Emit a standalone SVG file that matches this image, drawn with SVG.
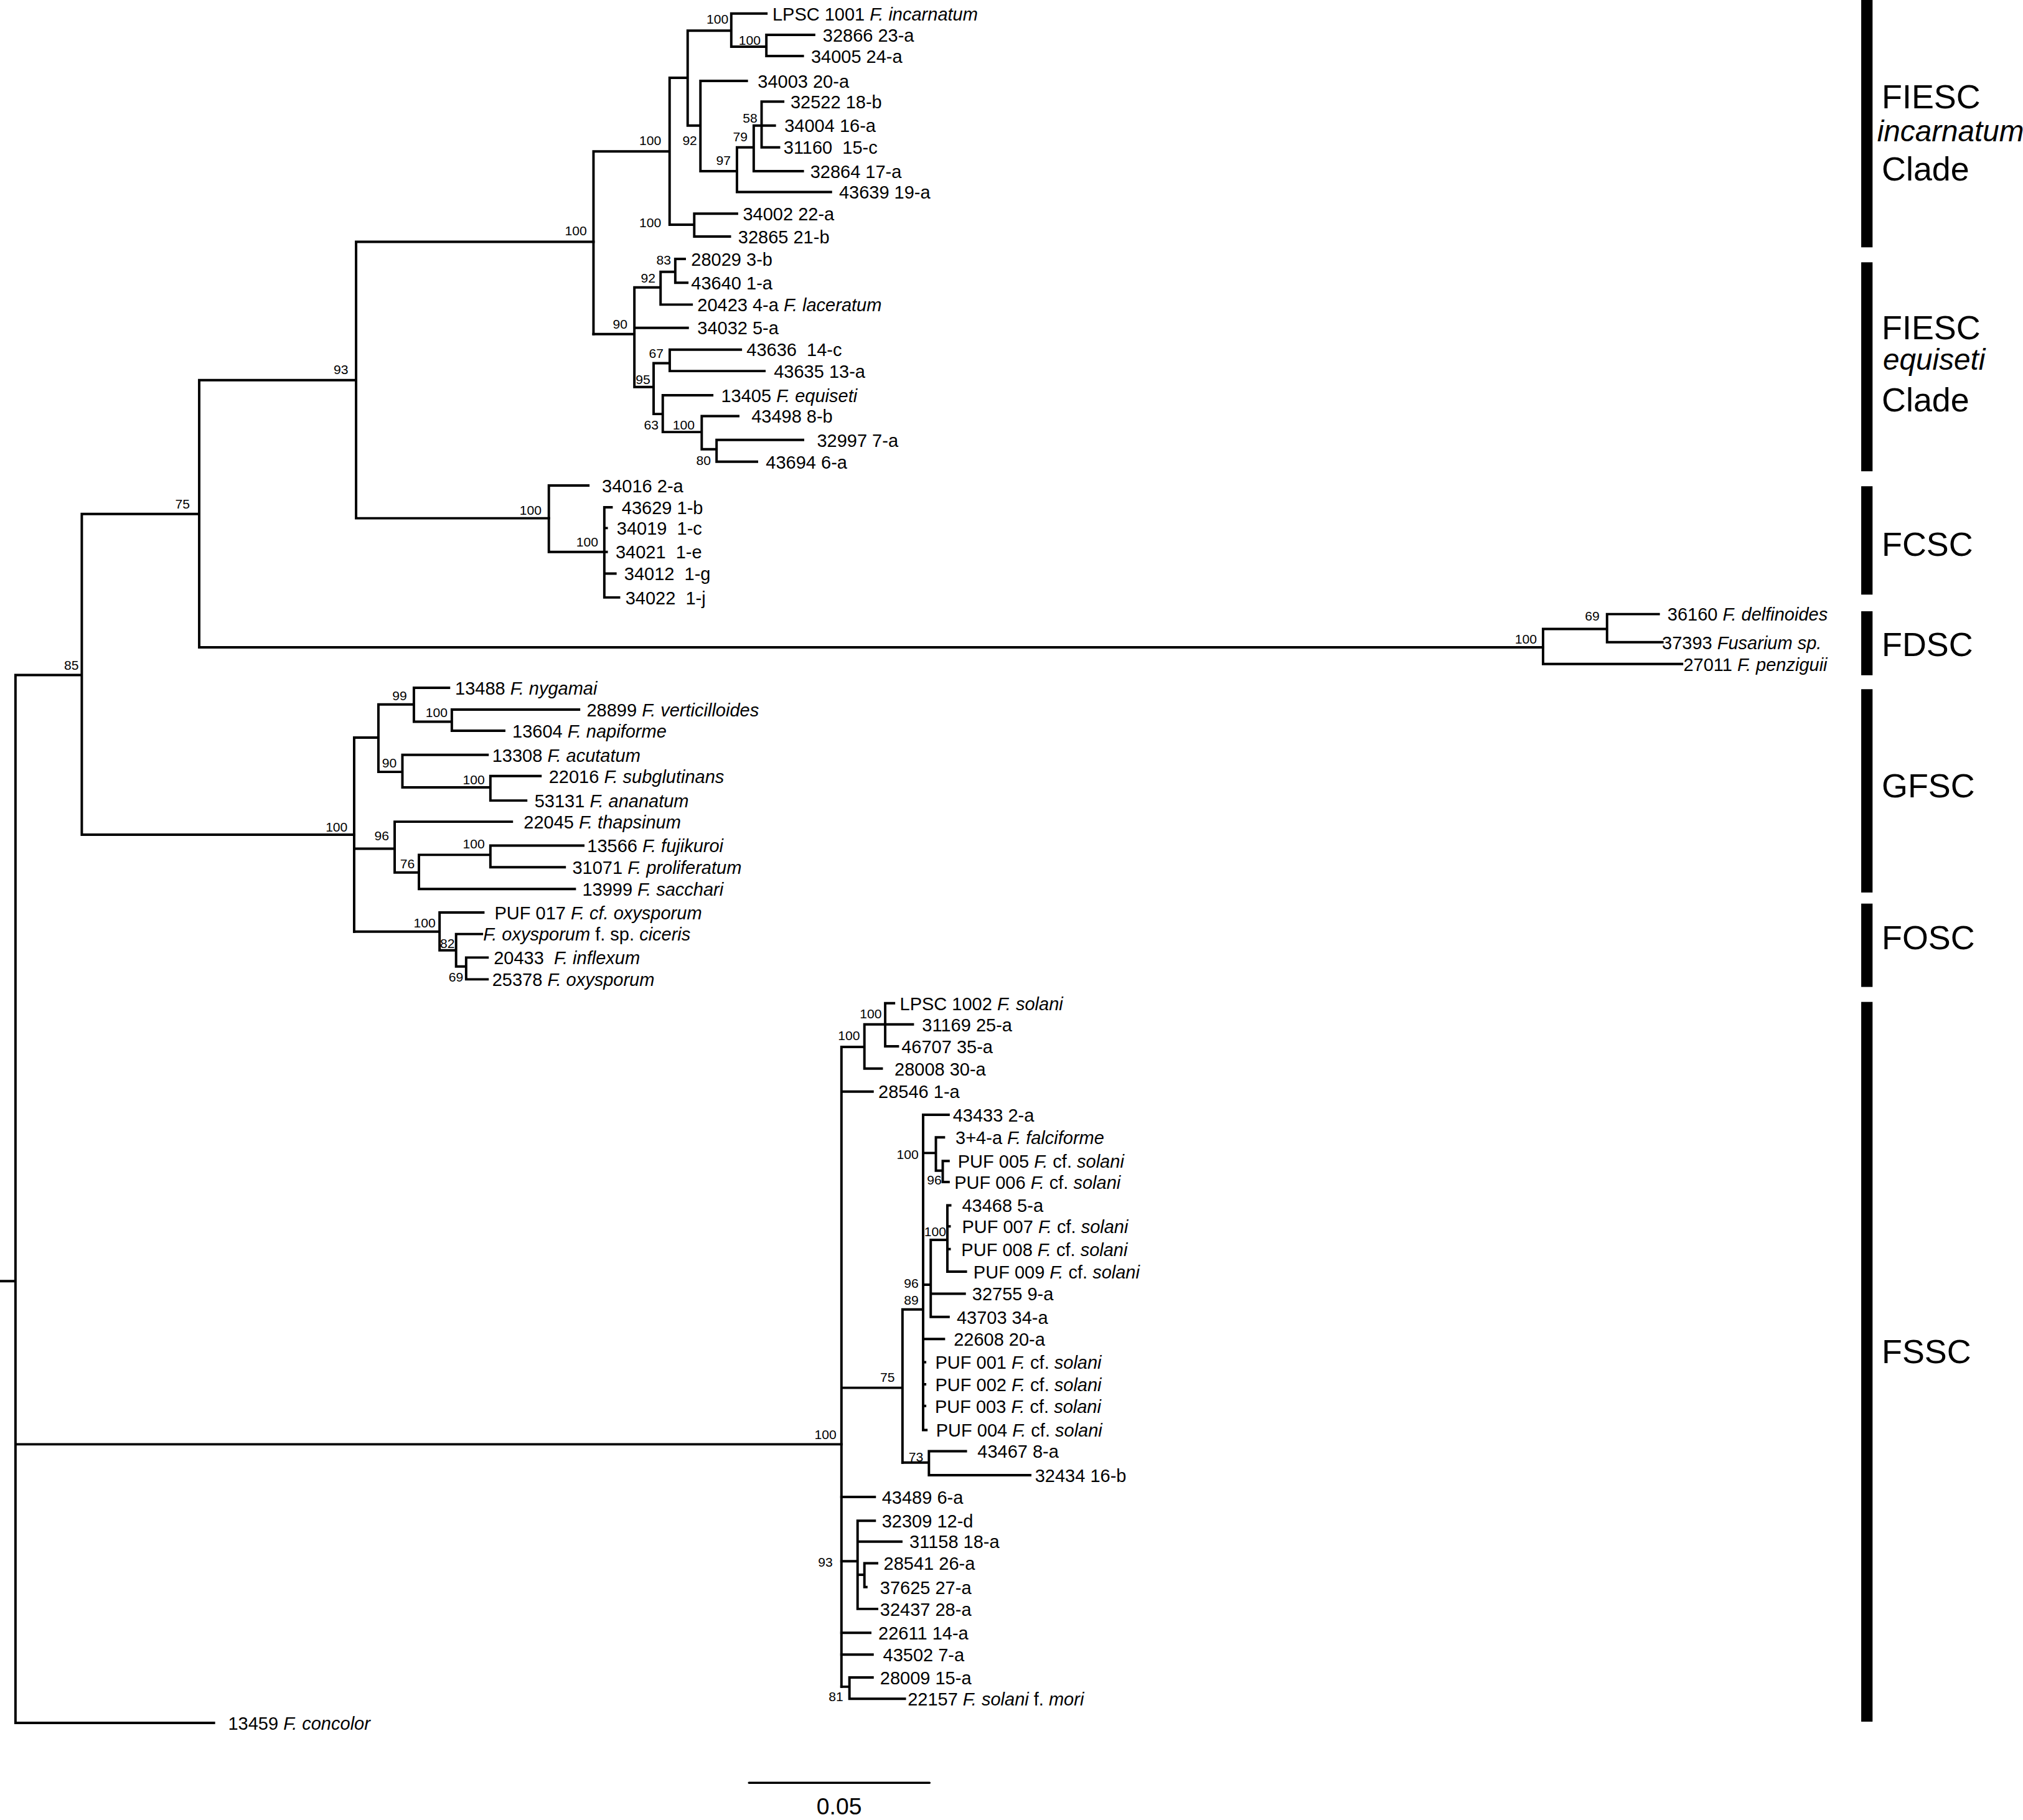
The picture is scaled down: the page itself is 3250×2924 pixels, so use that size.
<svg xmlns="http://www.w3.org/2000/svg" width="3250" height="2924" viewBox="0 0 3250 2924">
<style>
.br{fill:none;stroke:#000;stroke-width:1.9;stroke-linecap:square}
.sb{fill:none;stroke:#000;stroke-width:1.6;stroke-linecap:round}
text{font-family:"Liberation Sans",Arial,sans-serif;fill:#000}
.tip{font-size:14px}
.bs{font-size:10.2px;text-anchor:end}
.cl{font-size:26px}
.ci{font-size:23px;font-style:italic}
.it{font-style:italic}
.bar{fill:#000}
</style>
<rect x="0" y="0" width="3250" height="2924" fill="#fff"/>
<g transform="scale(2.0727)">
<g id="connectors">
<path class="br" d="M0,993H12 M12,523.2V1335.5 M12,1335.5H165.8 M12,1119.5H652.2 M12,523.2H63.4 M63.4,398.4V647 M63.4,398.4H154.4 M154.4,294.7V501.8 M154.4,501.8H1196 M154.4,294.7H276 M276,187.4V401.7 M276,187.4H460 M276,401.7H425.4 M63.4,647H274.5"/>
<path class="br" d="M460,117.4V259 M460,117.4H519 M519,60.3V174.2 M519,60.3H533 M533,23.8V97.3 M533,23.8H566.8 M566.8,10.5V36.2 M566.8,10.5H594 M566.8,36.2H594 M594,27V43.4 M594,27H631 M594,43.4H622.2 M533,97.3H542.9 M542.9,62.7V132.7 M542.9,62.7H578.8 M542.9,132.7H571.2 M571.2,114.2V148.8 M571.2,148.8H644 M571.2,114.2H584.2 M584.2,97.3V132.7 M584.2,132.7H622.2 M584.2,97.3H590.3 M590.3,78.8V114.2 M590.3,78.8H607 M590.3,97.3H600.5 M590.3,114.2H603.8 M519,174.2H538.1 M538.1,165.6V183.3 M538.1,165.6H571.2 M538.1,183.3H565.7"/>
<path class="br" d="M460,259H491.7 M491.7,222.8V300 M491.7,222.8H512 M512,210.7V236.1 M512,210.7H523.4 M523.4,200.7V219.2 M523.4,200.7H530.7 M523.4,219.2H532.7 M512,236.1H536.1 M491.7,254.1H533 M491.7,300H506.6 M506.6,281.5V320.9 M506.6,281.5H519.1 M519.1,271V287.6 M519.1,271H574.2 M519.1,287.6H592.5 M506.6,320.9H513.7 M513.7,306.4V334.9 M513.7,306.4H552 M513.7,334.9H543.9 M543.9,322.5V348.2 M543.9,322.5H572.2 M543.9,348.2H555.4 M555.4,341V357.9 M555.4,341H622.4 M555.4,357.9H586.7"/>
<path class="br" d="M425.4,376.3V427.8 M425.4,376.3H456 M425.4,427.8H468.4 M468.4,393.2V463.1 M468.4,393.2H474 M468.4,409.3H470.2 M468.4,427.8H470.2 M468.4,444.6H477 M468.4,463.1H479.8"/>
<path class="br" d="M1196,487.5V514.7 M1196,487.5H1245.6 M1245.6,476V497.8 M1245.6,476H1285.6 M1245.6,497.8H1288.5 M1196,514.7H1303.7"/>
<path class="br" d="M274.5,571.7V722.1 M274.5,571.7H293.3 M293.3,546V598.3 M293.3,546H320.8 M320.8,533.1V559.4 M320.8,533.1H348 M320.8,559.4H350.2 M350.2,550V566.4 M350.2,550H448.8 M350.2,566.4H390.8 M293.3,598.3H311.9 M311.9,585.1V610.3 M311.9,585.1H377.9 M311.9,610.3H380.1 M380.1,601.5V620.5 M380.1,601.5H418.9 M380.1,620.5H407.8 M274.5,657.8H305.9 M305.9,636.9V676.3 M305.9,636.9H396.7 M305.9,676.3H324.7 M324.7,662.6V689.1 M324.7,662.6H380.1 M380.1,655.4V672.2 M380.1,655.4H452.1 M380.1,672.2H437.7 M324.7,689.1H445.5"/>
<path class="br" d="M274.5,722.1H340.7 M340.7,707.3V736.6 M340.7,707.3H374.6 M340.7,736.6H353.5 M353.5,724V749.1 M353.5,724H373.5 M353.5,749.1H361.3 M361.3,742.2V759.1 M361.3,742.2H377.9 M361.3,759.1H377.9"/>
<path class="br" d="M652.2,811.5V1307.4 M652.2,811.5H670 M670,794V828.3 M670,794H686.1 M686.1,777.6V811 M686.1,777.6H692.9 M686.1,794H707.5 M686.1,811H695.9 M670,828.3H683.4 M652.2,846.1H676.3 M652.2,1075.7H699.5 M699.5,1015V1133.7 M699.5,1015H715.5 M715.5,864.1V1108.5 M715.5,864.1H735.2 M715.5,893.7H725.4 M725.4,881.6V907.4 M725.4,881.6H731.6 M725.4,907.4H730.7 M730.7,899.9V916.2 M730.7,899.9H735.2 M730.7,916.2H735.2 M715.5,995.8H721.4 M721.4,961.1V1020.8 M721.4,961.1H734.3 M734.3,934.3V985.7 M734.3,934.3H736.5 M734.3,950.6H736 M734.3,968.2H736 M734.3,985.7H748.6 M721.4,1002.8H747.7 M721.4,1020.8H735.2 M715.5,1037.9H731.6 M715.5,1055.9H717 M715.5,1073H717 M715.5,1089.8H717 M715.5,1108.5H718"/>
<path class="br" d="M699.5,1133.7H720 M720,1124.9V1143.4 M720,1124.9H748.6 M720,1143.4H798.5 M652.2,1160.3H678 M652.2,1210.1H664.7 M664.7,1178.8V1247.1 M664.7,1178.8H678 M664.7,1194.9H698.6 M664.7,1220.6H670 M670,1211.7V1230.2 M670,1211.7H679.8 M670,1230.2H671.5 M664.7,1247.1H679.8 M652.2,1265.6H674.5 M652.2,1282.5H676.3 M652.2,1307.4H658.4 M658.4,1300.2V1316.8 M658.4,1300.2H676.3 M658.4,1316.8H701.3"/>
</g>
<g id="support-values">
<text class="bs" x="564.6" y="18.5">100</text>
<text class="bs" x="589.6" y="34.6">100</text>
<text class="bs" x="512.5" y="112.6">100</text>
<text class="bs" x="540.3" y="112.6">92</text>
<text class="bs" x="566.4" y="127.9">97</text>
<text class="bs" x="579.4" y="109.4">79</text>
<text class="bs" x="587" y="94.9">58</text>
<text class="bs" x="512.5" y="176.1">100</text>
<text class="bs" x="454.9" y="182.5">100</text>
<text class="bs" x="520.1" y="205.1">83</text>
<text class="bs" x="508" y="218.8">92</text>
<text class="bs" x="486.3" y="254.9">90</text>
<text class="bs" x="514.3" y="277.5">67</text>
<text class="bs" x="504.1" y="297.6">95</text>
<text class="bs" x="510.5" y="332.9">63</text>
<text class="bs" x="538.4" y="332.9">100</text>
<text class="bs" x="551" y="360.3">80</text>
<text class="bs" x="419.7" y="398.8">100</text>
<text class="bs" x="463.6" y="423.7">100</text>
<text class="bs" x="1191.2" y="499">100</text>
<text class="bs" x="1239.8" y="481">69</text>
<text class="bs" x="315.4" y="542.8">99</text>
<text class="bs" x="346.9" y="555.6">100</text>
<text class="bs" x="307.5" y="595">90</text>
<text class="bs" x="375.7" y="607.9">100</text>
<text class="bs" x="269.4" y="644.5">100</text>
<text class="bs" x="301.5" y="651.3">96</text>
<text class="bs" x="321.4" y="673">76</text>
<text class="bs" x="375.7" y="657.8">100</text>
<text class="bs" x="337.6" y="718.9">100</text>
<text class="bs" x="352.4" y="735">82</text>
<text class="bs" x="359.1" y="760.7">69</text>
<text class="bs" x="683.4" y="789.3">100</text>
<text class="bs" x="666.5" y="806.3">100</text>
<text class="bs" x="712" y="898.5">100</text>
<text class="bs" x="729.8" y="918">96</text>
<text class="bs" x="733.4" y="958.3">100</text>
<text class="bs" x="712" y="998.1">96</text>
<text class="bs" x="712" y="1011.4">89</text>
<text class="bs" x="693.6" y="1071">75</text>
<text class="bs" x="648.3" y="1115.5">100</text>
<text class="bs" x="715.6" y="1132.9">73</text>
<text class="bs" x="645.4" y="1214.2">93</text>
<text class="bs" x="653.6" y="1318.7">81</text>
<text class="bs" x="61" y="519">85</text>
<text class="bs" x="147.1" y="394.3">75</text>
<text class="bs" x="269.9" y="289.9">93</text>
</g>
<g id="tips" class="tip">
<g id="t1"><text x="598.7" y="15.7">LPSC 1001 <tspan class="it">F. incarnatum</tspan></text></g>
<g id="t2"><text x="637.7" y="32.2">32866 23-a</text></g>
<g id="t3"><text x="628.6" y="48.6">34005 24-a</text></g>
<g id="t4"><text x="587.3" y="67.9">34003 20-a</text></g>
<g id="t5"><text x="612.7" y="84">32522 18-b</text></g>
<g id="t6"><text x="608" y="102.5">34004 16-a</text></g>
<g id="t7"><text x="607.3" y="119.4">31160&#160; 15-c</text></g>
<g id="t8"><text x="628" y="137.9">32864 17-a</text></g>
<g id="t9"><text x="650.3" y="154">43639 19-a</text></g>
<g id="t10"><text x="575.8" y="170.8">34002 22-a</text></g>
<g id="t11"><text x="572.1" y="188.5">32865 21-b</text></g>
<g id="t12"><text x="535.7" y="205.9">28029 3-b</text></g>
<g id="t13"><text x="535.7" y="224.4">43640 1-a</text></g>
<g id="t14"><text x="540.5" y="241.3">20423 4-a <tspan class="it">F. laceratum</tspan></text></g>
<g id="t15"><text x="540.5" y="259.3">34032 5-a</text></g>
<g id="t16"><text x="578.6" y="276.2">43636&#160; 14-c</text></g>
<g id="t17"><text x="599.8" y="292.8">43635 13-a</text></g>
<g id="t18"><text x="558.9" y="311.6">13405 <tspan class="it">F. equiseti</tspan></text></g>
<g id="t19"><text x="582.4" y="327.7">43498 8-b</text></g>
<g id="t20"><text x="633.2" y="346.2">32997 7-a</text></g>
<g id="t21"><text x="593.6" y="363.1">43694 6-a</text></g>
<g id="t22"><text x="466.6" y="381.5">34016 2-a</text></g>
<g id="t23"><text x="481.9" y="398.4">43629 1-b</text></g>
<g id="t24"><text x="478" y="414.5">34019&#160; 1-c</text></g>
<g id="t25"><text x="477.1" y="433">34021&#160; 1-e</text></g>
<g id="t26"><text x="483.8" y="449.8">34012&#160; 1-g</text></g>
<g id="t27"><text x="484.7" y="468.3">34022&#160; 1-j</text></g>
<g id="t28"><text x="1292.4" y="481.2">36160 <tspan class="it">F. delfinoides</tspan></text></g>
<g id="t29"><text x="1288.2" y="503">37393 <tspan class="it">Fusarium sp.</tspan></text></g>
<g id="t30"><text x="1304.8" y="519.9">27011 <tspan class="it">F. penziguii</tspan></text></g>
<g id="t31"><text x="352.7" y="538.3">13488 <tspan class="it">F. nygamai</tspan></text></g>
<g id="t32"><text x="454.7" y="555.2">28899 <tspan class="it">F. verticilloides</tspan></text></g>
<g id="t33"><text x="397.1" y="571.6">13604 <tspan class="it">F. napiforme</tspan></text></g>
<g id="t34"><text x="381.5" y="590.3">13308 <tspan class="it">F. acutatum</tspan></text></g>
<g id="t35"><text x="425.4" y="606.7">22016 <tspan class="it">F. subglutinans</tspan></text></g>
<g id="t36"><text x="414.3" y="625.7">53131 <tspan class="it">F. ananatum</tspan></text></g>
<g id="t37"><text x="405.9" y="642.1">22045 <tspan class="it">F. thapsinum</tspan></text></g>
<g id="t38"><text x="455.1" y="660.6">13566 <tspan class="it">F. fujikuroi</tspan></text></g>
<g id="t39"><text x="443.6" y="677.4">31071 <tspan class="it">F. proliferatum</tspan></text></g>
<g id="t40"><text x="451.3" y="694.3">13999 <tspan class="it">F. sacchari</tspan></text></g>
<g id="t41"><text x="383.3" y="712.5">PUF 017 <tspan class="it">F. cf. oxysporum</tspan></text></g>
<g id="t42"><text x="374.5" y="729.2"><tspan class="it">F. oxysporum</tspan> f. sp. <tspan class="it">ciceris</tspan></text></g>
<g id="t43"><text x="382.7" y="747.4">20433&#160; <tspan class="it">F. inflexum</tspan></text></g>
<g id="t44"><text x="381.5" y="764.3">25378 <tspan class="it">F. oxysporum</tspan></text></g>
<g id="t45"><text x="697.4" y="782.8">LPSC 1002 <tspan class="it">F. solani</tspan></text></g>
<g id="t46"><text x="714.7" y="799.2">31169 25-a</text></g>
<g id="t47"><text x="698.7" y="816.2">46707 35-a</text></g>
<g id="t48"><text x="693.3" y="833.5">28008 30-a</text></g>
<g id="t49"><text x="680.8" y="851.3">28546 1-a</text></g>
<g id="t50"><text x="738.5" y="869.3">43433 2-a</text></g>
<g id="t51"><text x="740.6" y="886.8">3+4-a <tspan class="it">F. falciforme</tspan></text></g>
<g id="t52"><text x="742.4" y="905.1">PUF 005 <tspan class="it">F.</tspan> cf. <tspan class="it">solani</tspan></text></g>
<g id="t53"><text x="739.7" y="921.4">PUF 006 <tspan class="it">F.</tspan> cf. <tspan class="it">solani</tspan></text></g>
<g id="t54"><text x="745.6" y="939.5">43468 5-a</text></g>
<g id="t55"><text x="745.6" y="955.8">PUF 007 <tspan class="it">F.</tspan> cf. <tspan class="it">solani</tspan></text></g>
<g id="t56"><text x="745.1" y="973.4">PUF 008 <tspan class="it">F.</tspan> cf. <tspan class="it">solani</tspan></text></g>
<g id="t57"><text x="754.5" y="990.9">PUF 009 <tspan class="it">F.</tspan> cf. <tspan class="it">solani</tspan></text></g>
<g id="t58"><text x="753.5" y="1008">32755 9-a</text></g>
<g id="t59"><text x="741.5" y="1026">43703 34-a</text></g>
<g id="t60"><text x="739.2" y="1043.1">22608 20-a</text></g>
<g id="t61"><text x="724.9" y="1061.1">PUF 001 <tspan class="it">F.</tspan> cf. <tspan class="it">solani</tspan></text></g>
<g id="t62"><text x="724.9" y="1078.2">PUF 002 <tspan class="it">F.</tspan> cf. <tspan class="it">solani</tspan></text></g>
<g id="t63"><text x="724.6" y="1095">PUF 003 <tspan class="it">F.</tspan> cf. <tspan class="it">solani</tspan></text></g>
<g id="t64"><text x="725.5" y="1113.7">PUF 004 <tspan class="it">F.</tspan> cf. <tspan class="it">solani</tspan></text></g>
<g id="t65"><text x="757.6" y="1130.1">43467 8-a</text></g>
<g id="t66"><text x="802.2" y="1148.6">32434 16-b</text></g>
<g id="t67"><text x="683.5" y="1165.5">43489 6-a</text></g>
<g id="t68"><text x="683.5" y="1184">32309 12-d</text></g>
<g id="t69"><text x="704.9" y="1200.1">31158 18-a</text></g>
<g id="t70"><text x="684.9" y="1216.9">28541 26-a</text></g>
<g id="t71"><text x="682.1" y="1235.4">37625 27-a</text></g>
<g id="t72"><text x="682.1" y="1252.3">32437 28-a</text></g>
<g id="t73"><text x="680.8" y="1270.8">22611 14-a</text></g>
<g id="t74"><text x="684.4" y="1287.7">43502 7-a</text></g>
<g id="t75"><text x="682.1" y="1305.4">28009 15-a</text></g>
<g id="t76"><text x="703.5" y="1322">22157 <tspan class="it">F. solani</tspan> f. <tspan class="it">mori</tspan></text></g>
<g id="t77"><text x="176.8" y="1340.7">13459 <tspan class="it">F. concolor</tspan></text></g>
</g>
<g id="clade-FIESC-incarnatum"><rect class="bar" x="1442.6" y="0" width="8.8" height="191.7"/><text class="cl" x="1458.5" y="84">FIESC</text><text class="ci" x="1455" y="109.5">incarnatum</text><text class="cl" x="1458.5" y="140">Clade</text></g>
<g id="clade-FIESC-equiseti"><rect class="bar" x="1442.6" y="203.3" width="8.8" height="162"/><text class="cl" x="1458.5" y="262.8">FIESC</text><text class="ci" x="1459.5" y="286.5">equiseti</text><text class="cl" x="1458.5" y="318.8">Clade</text></g>
<g id="clade-FCSC"><rect class="bar" x="1442.6" y="376.9" width="8.8" height="84"/><text class="cl" x="1458.5" y="430.8">FCSC</text></g>
<g id="clade-FDSC"><rect class="bar" x="1442.6" y="473.8" width="8.8" height="49.6"/><text class="cl" x="1458.5" y="508.3">FDSC</text></g>
<g id="clade-GFSC"><rect class="bar" x="1442.6" y="534.2" width="8.8" height="157.6"/><text class="cl" x="1458.5" y="618.2">GFSC</text></g>
<g id="clade-FOSC"><rect class="bar" x="1442.6" y="700.4" width="8.8" height="64.6"/><text class="cl" x="1458.5" y="735.7">FOSC</text></g>
<g id="clade-FSSC"><rect class="bar" x="1442.6" y="776.6" width="8.8" height="557.9"/><text class="cl" x="1458.5" y="1056.6">FSSC</text></g>
<g id="scale-bar"><path class="sb" d="M580.5,1381.9H720.5"/><text x="650.4" y="1406.5" font-size="18" text-anchor="middle">0.05</text></g>
</g>
</svg>
